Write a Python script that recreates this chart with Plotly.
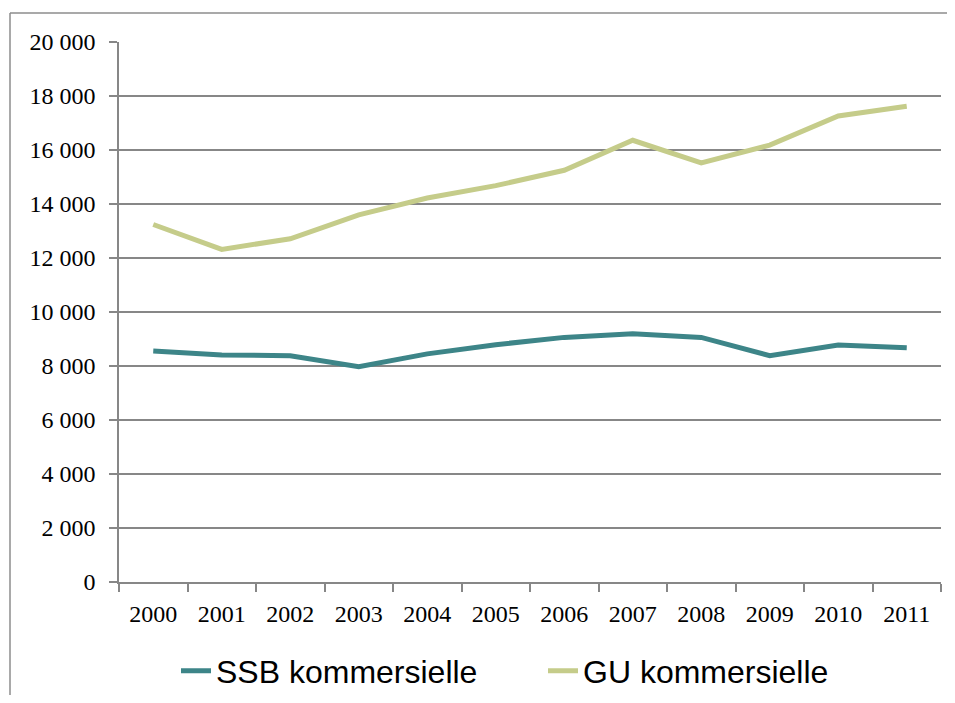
import plotly.graph_objects as go

years = ["2000", "2001", "2002", "2003", "2004", "2005", "2006", "2007", "2008", "2009", "2010", "2011"]
ssb_values = [8560, 8410, 8380, 7970, 8450, 8790, 9060, 9190, 9060, 8380, 8780, 8680]
gu_values = [13240, 12320, 12710, 13600, 14220, 14680, 15250, 16360, 15520, 16180, 17260, 17620]
y_tick_vals = [0, 2000, 4000, 6000, 8000, 10000, 12000, 14000, 16000, 18000, 20000]
y_tick_text = ["0", "2 000", "4 000", "6 000", "8 000", "10 000", "12 000", "14 000", "16 000", "18 000", "20 000"]

SSB_COLOR = "#3d8588"
GU_COLOR = "#c5cc8a"
GRID = "#878787"

fig = go.Figure()
fig.add_trace(go.Scatter(x=years, y=ssb_values, mode="lines", name="SSB kommersielle",
                         line=dict(color=SSB_COLOR, width=5)))
fig.add_trace(go.Scatter(x=years, y=gu_values, mode="lines", name="GU kommersielle",
                         line=dict(color=GU_COLOR, width=5)))

# page has an 8px body margin on every side; keep the figure inside the window
OFF = 8
W, H = 955 - 2 * OFF, 703 - 2 * OFF
L, T = 119 - OFF, 42 - OFF
R = W - (941 - OFF)
B = H - (582 - OFF)
pw, ph = W - L - R, H - T - B

def px_x(x):
    return (x - OFF - L) / pw

def px_y(y):
    return (H - B - (y - OFF)) / ph

# outer frame: only left and top edges are visible inside the picture
x_right_edge = (W - L) / pw
y_bottom_edge = -B / ph
fig.add_shape(type="line", xref="paper", yref="paper",
              x0=px_x(10), x1=px_x(10), y0=px_y(13), y1=y_bottom_edge,
              line=dict(color="#8c8c8c", width=1.5), layer="below")
fig.add_shape(type="line", xref="paper", yref="paper",
              x0=px_x(10), x1=x_right_edge, y0=px_y(13), y1=px_y(13),
              line=dict(color="#8c8c8c", width=1.5), layer="below")

fig.update_layout(
    width=W, height=H,
    margin=dict(l=L, r=R, t=T, b=B, autoexpand=False),
    paper_bgcolor="white", plot_bgcolor="white",
    showlegend=True,
    legend=dict(orientation="h", x=px_x(176), xanchor="left", y=px_y(671), yanchor="middle",
                font=dict(family="Liberation Sans, Arial, sans-serif", size=32, color="#000000"),
                bgcolor="rgba(0,0,0,0)", entrywidth=322, entrywidthmode="pixels"),
    xaxis=dict(type="category", range=[-0.5, 11.5], tickson="boundaries", ticks="outside",
               ticklen=8, tickwidth=1.5, tickcolor=GRID, showline=True, linecolor=GRID, linewidth=1.5,
               showgrid=False, zeroline=False,
               tickfont=dict(family="Liberation Serif, Times New Roman, serif", size=24, color="#000000"),
               ticklabelstandoff=9),
    yaxis=dict(range=[0, 20000], tickvals=y_tick_vals, ticktext=y_tick_text, ticks="outside",
               ticklen=8, tickwidth=1.5, tickcolor=GRID, showline=True, linecolor=GRID, linewidth=1.5,
               showgrid=True, gridcolor=GRID, gridwidth=1.5, zeroline=False,
               tickfont=dict(family="Liberation Serif, Times New Roman, serif", size=24, color="#000000"),
               ticklabelstandoff=9),
)

fig.write_html("out.html")
